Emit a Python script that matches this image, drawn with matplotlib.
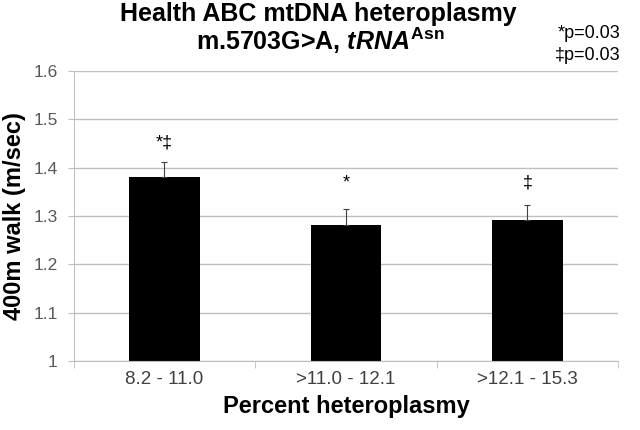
import matplotlib
matplotlib.use("Agg")
import matplotlib.pyplot as plt
import numpy as np

plt.rcParams['font.family'] = ['Liberation Sans', 'DejaVu Sans']
plt.rcParams['mathtext.fontset'] = 'custom'
plt.rcParams['mathtext.rm'] = 'Liberation Sans:bold'
plt.rcParams['mathtext.it'] = 'Liberation Sans:bold:italic'
plt.rcParams['mathtext.bf'] = 'Liberation Sans:bold'

categories = ["8.2 - 11.0", ">11.0 - 12.1", ">12.1 - 15.3"]
walk_speed = [1.38, 1.282, 1.291]
err_up = [0.032, 0.033, 0.032]
marks = ["*\u2021", "*", "\u2021"]
mark_y = [1.451, 1.368, 1.368]
yticks = [1, 1.1, 1.2, 1.3, 1.4, 1.5, 1.6]
ytick_labels = ["1", "1.1", "1.2", "1.3", "1.4", "1.5", "1.6"]

fig = plt.figure(figsize=(6.4, 4.3), dpi=100)
ax = fig.add_axes([0.115, 0.16, 0.851, 0.675])

x = np.arange(len(categories))
grey = "#bfbfbf"
ax.set_axisbelow(True)
ax.yaxis.grid(True, color=grey, linewidth=1)
ax.bar(x, walk_speed, width=0.39, color="black", zorder=2)
ax.errorbar(x, walk_speed, yerr=[np.zeros(len(x)), err_up], fmt="none",
            ecolor="#404040", elinewidth=0.8, capsize=2.5, capthick=0.8, zorder=3)
for xi, m, my in zip(x, marks, mark_y):
    ax.text(xi, my, m, ha="center", va="center", fontsize=13)

ax.set_xlim(-0.5, 2.5)
ax.set_ylim(1, 1.6)
ax.set_yticks(yticks)
ax.set_yticklabels(ytick_labels, fontsize=12.5, color="#595959")
ax.set_xticks(x)
ax.set_xticklabels(categories, fontsize=13.5, color="#404040")
ax.set_xticks([-0.5, 0.5, 1.5, 2.5], minor=True)
ax.tick_params(axis="x", which="major", length=0, pad=7)
ax.tick_params(axis="x", which="minor", length=5, color=grey)
ax.tick_params(axis="y", length=4.5, color=grey, pad=7)
for s in ["top", "right"]:
    ax.spines[s].set_visible(False)
for s in ["left", "bottom"]:
    ax.spines[s].set_color(grey)

ax.set_ylabel("400m walk (m/sec)", fontsize=17, fontweight="bold")
ax.yaxis.set_label_coords(-0.088, 0.5)
ax.set_xlabel("Percent heteroplasmy", fontsize=17, fontweight="bold", labelpad=5)

fig.text(0.497, 0.951, "Health ABC mtDNA heteroplasmy", ha="center", va="baseline",
         fontsize=18, fontweight="bold")
fig.text(0.5, 0.884, r"m.5703G>A, $\mathit{tRNA}^{\mathrm{Asn}}$", ha="center",
         va="baseline", fontsize=18, fontweight="bold")
fig.text(0.969, 0.912, "*p=0.03", ha="right", va="baseline", fontsize=13)
fig.text(0.969, 0.860, "\u2021p=0.03", ha="right", va="baseline", fontsize=13)

fig.savefig("out.png", dpi=100)
